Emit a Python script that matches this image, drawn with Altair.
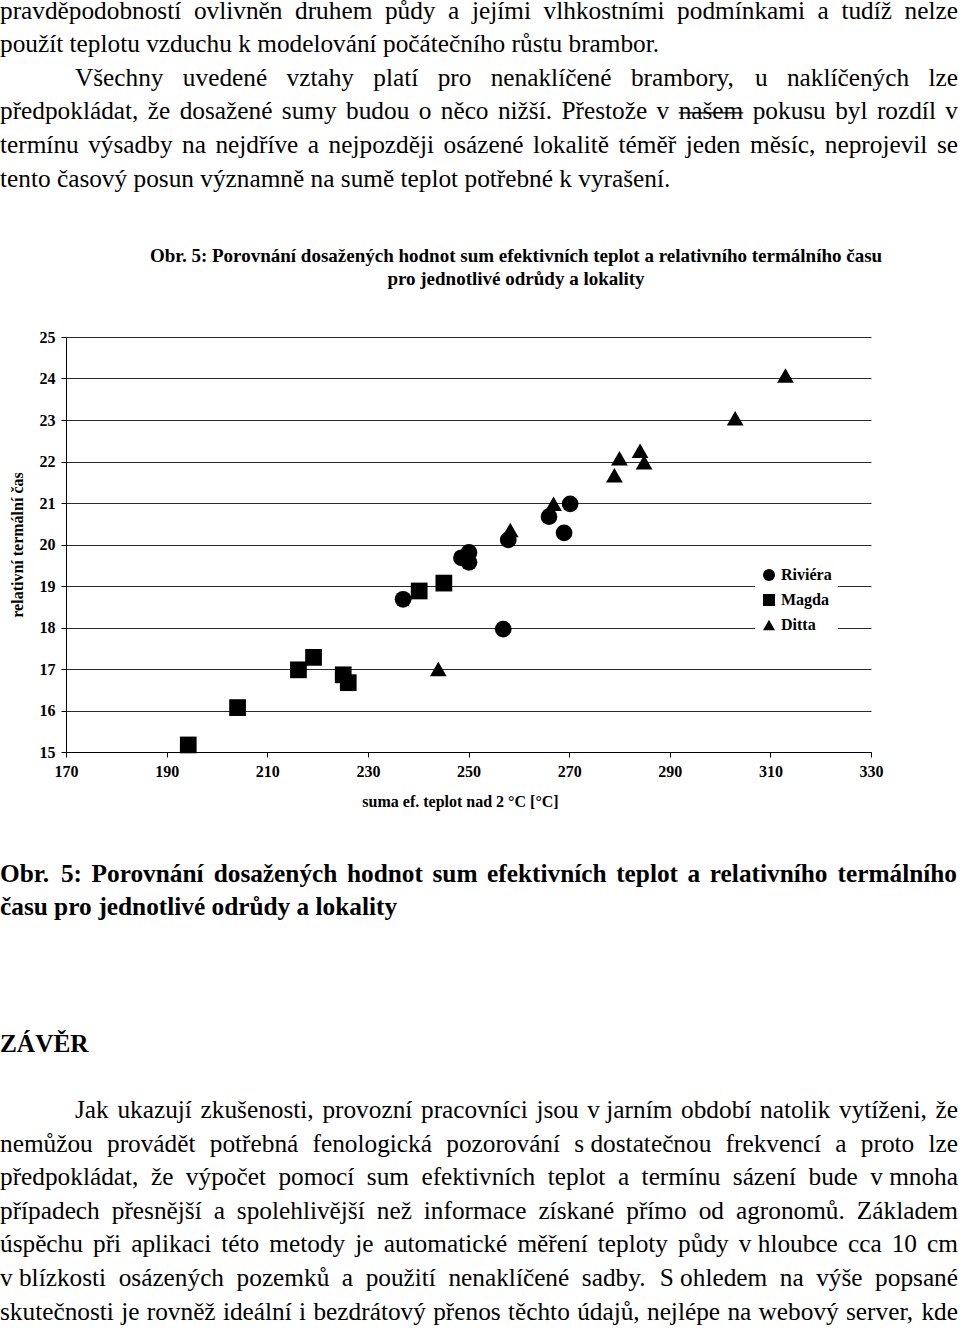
import unicodedata
import altair as alt
import pandas as pd

# ---------------- chart data ----------------
varieties = ["Riviéra", "Magda", "Ditta"]
riviera_x = [237.0, 248.6, 250.1, 250.1, 256.9, 257.9, 266.0, 269.0, 270.2]
riviera_y = [18.68, 19.68, 19.81, 19.57, 17.96, 20.11, 20.67, 20.28, 20.98]
magda_x = [194.3, 204.1, 216.2, 219.2, 225.1, 226.1, 240.2, 245.1]
magda_y = [15.17, 16.07, 16.98, 17.28, 16.86, 16.67, 18.88, 19.07]
ditta_x = [244.0, 258.3, 266.9, 279.0, 280.0, 284.1, 284.9, 303.0, 313.0]
ditta_y = [17.0, 20.35, 20.98, 21.67, 22.08, 22.26, 21.98, 23.04, 24.07]
x_ticks = [170, 190, 210, 230, 250, 270, 290, 310, 330]
y_ticks = [15, 16, 17, 18, 19, 20, 21, 22, 23, 24, 25]

chart_title = ["Obr. 5: Porovnání dosažených hodnot sum efektivních teplot a relativního termálního času",
               "pro jednotlivé odrůdy a lokality"]
x_title = "suma ef. teplot nad 2 °C [°C]"
y_title = "relativní termální čas"

# ---------------- page text ----------------
top_par = [
    "pravděpodobností ovlivněn druhem půdy a jejími vlhkostními podmínkami a tudíž nelze",
    "použít teplotu vzduchu k modelování počátečního růstu brambor.",
    "Všechny uvedené vztahy platí pro nenaklíčené brambory, u naklíčených lze",
    "předpokládat, že dosažené sumy budou o něco nižší. Přestože v našem pokusu byl rozdíl v",
    "termínu výsadby na nejdříve a nejpozději osázené lokalitě téměř jeden měsíc, neprojevil se",
    "tento časový posun významně na sumě teplot potřebné k vyrašení.",
]
caption = [
    "Obr. 5: Porovnání dosažených hodnot sum efektivních teplot a relativního termálního",
    "času pro jednotlivé odrůdy a lokality",
]
heading = "ZÁVĚR"
bottom_par = [
    "Jak ukazují zkušenosti, provozní pracovníci jsou v\u00a0jarním období natolik vytíženi, že",
    "nemůžou provádět potřebná fenologická pozorování s\u00a0dostatečnou frekvencí a proto lze",
    "předpokládat, že výpočet pomocí sum efektivních teplot a termínu sázení bude v\u00a0mnoha",
    "případech přesnější a spolehlivější než informace získané přímo od agronomů. Základem",
    "úspěchu při aplikaci této metody je automatické měření teploty půdy v\u00a0hloubce cca 10 cm",
    "v\u00a0blízkosti osázených pozemků a použití nenaklíčené sadby. S\u00a0ohledem na výše popsané",
    "skutečnosti je rovněž ideální i bezdrátový přenos těchto údajů, nejlépe na webový server, kde",
]

# ---------------- layout helpers (Times metrics, 1/1000 em) ----------------
REG = dict(a=444, b=500, c=444, d=500, e=444, f=333, g=500, h=500, i=278, j=278, k=500, l=278,
           m=778, n=500, o=500, p=500, q=500, r=333, s=389, t=278, u=500, v=500, w=722, x=500,
           y=500, z=444, A=722, B=667, C=667, D=722, E=611, F=556, G=722, H=722, I=333, J=389,
           K=722, L=611, M=889, N=722, O=722, P=556, Q=722, R=667, S=556, T=611, U=722, V=722,
           W=944, X=722, Y=722, Z=611)
REG.update({" ": 250, "\u00a0": 250, ",": 250, ".": 250, ":": 278, ";": 278, "-": 333})
BOLD = dict(a=500, b=556, c=444, d=556, e=444, f=333, g=500, h=556, i=278, j=333, k=556, l=278,
            m=833, n=556, o=500, p=556, q=556, r=444, s=389, t=333, u=556, v=500, w=722, x=500,
            y=500, z=444, A=722, B=667, C=722, D=722, E=667, F=611, G=778, H=778, I=389, J=500,
            K=778, L=667, M=944, N=722, O=778, P=611, Q=778, R=722, S=556, T=667, U=722, V=722,
            W=1000, X=722, Y=722, Z=667)
BOLD.update({" ": 250, "\u00a0": 250, ",": 250, ".": 250, ":": 333, ";": 333, "-": 333})
for tb in (REG, BOLD):
    for dgt in "0123456789":
        tb[dgt] = 500

OX, OY = 66, 337          # page position of the plot origin
FS = 25.3                 # body font size


def word_w(word, bold):
    tb = BOLD if bold else REG
    tot = 0
    for ch in word:
        base = unicodedata.normalize("NFD", ch)[0]
        tot += tb.get(base, 500)
    return tot * FS / 1000.0


def layout(text, x0, x1, base, justify, bold):
    words = text.split(" ")
    ws = [word_w(w, bold) for w in words]
    gap = 250 * FS / 1000.0
    if justify and len(words) > 1:
        gap = (x1 - x0 - sum(ws)) / (len(words) - 1)
    rows, x = [], x0
    for w, wd in zip(words, ws):
        rows.append({"t": w.replace("\u00a0", " "), "px": x - OX, "py": base - OY, "wd": wd})
        x += wd + gap
    return rows


reg_rows, bold_rows = [], []
top_specs = [(0, True), (0, False), (75, True), (0, True), (0, True), (0, False)]
for i, (line, (ind, just)) in enumerate(zip(top_par, top_specs)):
    reg_rows += layout(line, ind, 958, 18.5 + 33.6 * i, just, False)
cap_specs = [True, False]
for i, (line, just) in enumerate(zip(caption, cap_specs)):
    bold_rows += layout(line, 0, 957, 882 + 33 * i, just, True)
bold_rows += layout(heading, 0, 100, 1052, False, True)
for i, line in enumerate(bottom_par):
    reg_rows += layout(line, 75 if i == 0 else 0, 958, 1118 + 33.6 * i, True, False)

strike = [r for r in reg_rows if r["t"] == "našem"]
strike_df = pd.DataFrame({"px": [r["px"] for r in strike],
                          "px2": [r["px"] + r["wd"] for r in strike],
                          "py": [r["py"] - 6.5 for r in strike]})

reg_df = pd.DataFrame(reg_rows)
bold_df = pd.DataFrame(bold_rows)
title_df = pd.DataFrame({"t": chart_title, "px": [516 - OX] * 2, "py": [262 - OY, 285 - OY]})

# ---------------- scatter ----------------
pts = pd.DataFrame({
    "suma": riviera_x + magda_x + ditta_x,
    "rtc": riviera_y + magda_y + ditta_y,
    "odruda": [varieties[0]] * len(riviera_x) + [varieties[1]] * len(magda_x) + [varieties[2]] * len(ditta_x),
})

SERIF = "Liberation Serif"

scatter = alt.Chart(pts).mark_point(filled=True, color="black", opacity=1, size=280).encode(
    x=alt.X("suma:Q",
            scale=alt.Scale(domain=[170, 330], nice=False, zero=False),
            axis=alt.Axis(values=x_ticks, title=x_title, grid=False, domainColor="black",
                          tickColor="black", tickSize=5, labelPadding=6, titlePadding=14,
                          titleX=394, format="d", labelFlush=False, labelOverlap=False)),
    y=alt.Y("rtc:Q",
            scale=alt.Scale(domain=[15, 25], nice=False, zero=False),
            axis=alt.Axis(values=y_ticks, title=y_title, grid=True, gridColor="#2a2a2a",
                          gridWidth=1, domainColor="black", tickColor="black", tickSize=5,
                          labelPadding=6, titlePadding=14, format="d", labelFlush=False,
                          labelOverlap=False)),
    shape=alt.Shape("odruda:N",
                    scale=alt.Scale(domain=varieties, range=["circle", "square", "triangle-up"]),
                    legend=alt.Legend(title=None, orient="none", legendX=689, legendY=224,
                                      fillColor="white", padding=6, labelFont=SERIF,
                                      labelFontSize=16, labelFontWeight="bold", labelColor="black",
                                      symbolSize=144, symbolFillColor="black",
                                      symbolStrokeColor="black", symbolStrokeWidth=0,
                                      rowPadding=9, labelOffset=4)),
)

nox = alt.X("px:Q", scale=None, axis=None)
noy = alt.Y("py:Q", scale=None, axis=None)

txt_reg = alt.Chart(reg_df).mark_text(align="left", baseline="alphabetic", font=SERIF,
                                      fontSize=FS, color="black").encode(x=nox, y=noy, text="t:N")
txt_bold = alt.Chart(bold_df).mark_text(align="left", baseline="alphabetic", font=SERIF,
                                        fontSize=FS, fontWeight="bold", color="black").encode(
    x=nox, y=noy, text="t:N")
txt_title = alt.Chart(title_df).mark_text(align="center", baseline="alphabetic", font=SERIF,
                                          fontSize=19, fontWeight="bold", color="black").encode(
    x=nox, y=noy, text="t:N")
strike_rule = alt.Chart(strike_df).mark_rule(color="black", strokeWidth=1.3).encode(
    x=nox, x2="px2:Q", y=noy)

chart = alt.layer(scatter, txt_reg, txt_bold, txt_title, strike_rule).resolve_scale(
    x="independent", y="independent"
).properties(
    width=805, height=415,
    padding={"left": OX, "top": OY, "right": 960 - 871, "bottom": 1330 - 752},
    autosize=alt.AutoSizeParams(type="none"),
    background="white",
).configure_view(stroke=None).configure_axis(
    labelFont=SERIF, labelFontSize=16, labelFontWeight="bold", labelColor="black",
    titleFont=SERIF, titleFontSize=16, titleFontWeight="bold", titleColor="black",
    domainWidth=1, tickWidth=1,
)

chart.save("out.html", embed_options={"renderer": "svg", "actions": False})
